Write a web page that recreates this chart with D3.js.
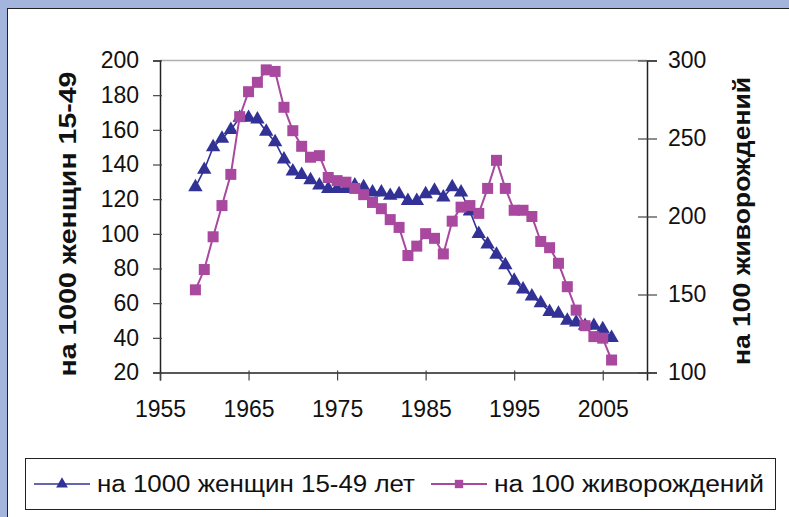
<!DOCTYPE html>
<html>
<head>
    <meta charset="UTF-8">
    <title>Рождаемость</title>
    <script src="https://d3js.org/d3.v7.min.js"></script>
    <style>
        body { margin: 0; }
        text { font-family: "Liberation Sans", Arial, sans-serif; fill: #111; }
    </style>
</head>
<body>
    <div id="chart"></div>
    <script>
        // values
        const years = d3.range(1959, 2007);
        const perWomen = [127, 137, 150, 155, 160, 167, 167, 166, 159, 153,
                          143, 136, 134, 131, 128, 126, 126, 126, 128, 127,
                          124, 124, 122, 123, 119, 119, 123, 125, 121, 127,
                          124, 113, 100, 94, 88, 82, 73, 68, 64, 60,
                          55, 54, 50, 49, 47, 47, 45, 40];
        const perBirths = [153, 166, 187, 207, 227, 264, 280, 286, 294, 293,
                           270, 255, 245, 238, 239, 225, 223, 222, 218, 214,
                           209, 205, 198, 193, 175, 181, 189, 186, 176, 197,
                           206, 207, 202, 218, 236, 218, 204, 204, 200, 184,
                           180, 170, 155, 140, 130, 123, 122, 108];
        const xTicks = [1955, 1965, 1975, 1985, 1995, 2005];
        const leftTicks = [20, 40, 60, 80, 100, 120, 140, 160, 180, 200];
        const rightTicks = [100, 150, 200, 250, 300];
        const seriesNames = ['на 1000 женщин 15-49 лет', 'на 100 живорождений'];

        const W = 789, H = 517;
        const plot = { left: 160, right: 647, top: 60.5, bottom: 372.5 };
        const navy = '#323296', plum = '#a8489f';

        const svg = d3.select('#chart').append('svg')
            .attr('width', W).attr('height', H);

        // frame
        svg.append('rect').attr('width', W).attr('height', H).attr('fill', '#a3b5dc');
        svg.append('rect').attr('x', 7.5).attr('y', 8.5).attr('width', W).attr('height', H)
            .attr('fill', '#fff').attr('stroke', '#222');

        const x = d3.scaleLinear().domain([1955, 2010]).range([plot.left, plot.right]);
        const yL = d3.scaleLinear().domain([20, 200]).range([plot.bottom, plot.top]);
        const yR = d3.scaleLinear().domain([100, 300]).range([plot.bottom, plot.top]);

        // plot area top edge
        svg.append('line')
            .attr('x1', plot.left).attr('x2', plot.right)
            .attr('y1', plot.top).attr('y2', plot.top)
            .attr('stroke', '#b0b0b0').attr('stroke-width', 1.5);

        const fs = '23px';

        const gx = svg.append('g').attr('transform', `translate(0,${plot.bottom})`)
            .call(d3.axisBottom(x).tickValues(xTicks).tickFormat(d3.format('d')).tickSize(8).tickPadding(20));
        gx.selectAll('.tick line').attr('y1', -2);

        const gl = svg.append('g').attr('transform', `translate(${plot.left},0)`)
            .call(d3.axisLeft(yL).tickValues(leftTicks).tickSize(7).tickPadding(14));
        gl.selectAll('.tick line').attr('x1', 2);

        const gr = svg.append('g').attr('transform', `translate(${plot.right},0)`)
            .call(d3.axisRight(yR).tickValues(rightTicks).tickSize(10).tickPadding(11));
        gr.selectAll('.tick line').attr('x1', -9);

        [gx, gl, gr].forEach(g => {
            g.select('.domain').attr('stroke', '#222').attr('stroke-width', 1.5);
            g.selectAll('.tick line').attr('stroke', '#444').attr('stroke-width', 1.2);
            g.selectAll('text').attr('font-size', fs).attr('font-family', '"Liberation Sans", Arial, sans-serif').attr('fill', '#111');
        });

        // axis titles (the original font is a bit wider, so stretch to its length)
        svg.append('text')
            .attr('transform', 'translate(68,224) rotate(-90)')
            .attr('text-anchor', 'middle').attr('dominant-baseline', 'central')
            .attr('font-size', fs).attr('font-weight', 'bold')
            .attr('textLength', 305).attr('lengthAdjust', 'spacingAndGlyphs')
            .text('на 1000 женщин 15-49');
        svg.append('text')
            .attr('transform', 'translate(742,221) rotate(-90)')
            .attr('text-anchor', 'middle').attr('dominant-baseline', 'central')
            .attr('font-size', fs).attr('font-weight', 'bold')
            .attr('textLength', 288).attr('lengthAdjust', 'spacingAndGlyphs')
            .text('на 100 живорождений');

        const tri = d3.symbol(d3.symbolTriangle).size(90);
        const sq = d3.symbol(d3.symbolSquare).size(121);

        // series 1 (left axis)
        const lineL = d3.line().x((d, i) => x(years[i])).y(d => yL(d));
        svg.append('path').datum(perWomen).attr('d', lineL)
            .attr('fill', 'none').attr('stroke', navy).attr('stroke-width', 1.6);
        svg.append('g').selectAll('path').data(perWomen).join('path')
            .attr('transform', (d, i) => `translate(${x(years[i])},${yL(d)})`)
            .attr('d', tri).attr('fill', navy);

        // series 2 (right axis)
        const lineR = d3.line().x((d, i) => x(years[i])).y(d => yR(d));
        svg.append('path').datum(perBirths).attr('d', lineR)
            .attr('fill', 'none').attr('stroke', plum).attr('stroke-width', 2);
        svg.append('g').selectAll('path').data(perBirths).join('path')
            .attr('transform', (d, i) => `translate(${x(years[i])},${yR(d)})`)
            .attr('d', sq).attr('fill', plum);

        // legend
        const leg = svg.append('g');
        leg.append('rect').attr('x', 25.5).attr('y', 458.5).attr('width', 750).attr('height', 51)
            .attr('fill', '#fff').attr('stroke', '#222');
        const items = [
            { x: 34, color: navy, sym: d3.symbol(d3.symbolTriangle).size(60), w: 1.6, len: 318 },
            { x: 431, color: plum, sym: d3.symbol(d3.symbolSquare).size(70), w: 2, len: 270 }
        ];
        items.forEach((it, i) => {
            const ly = 484;
            leg.append('line').attr('x1', it.x).attr('x2', it.x + 56)
                .attr('y1', ly).attr('y2', ly).attr('stroke', it.color).attr('stroke-width', it.w);
            leg.append('path').attr('transform', `translate(${it.x + 28},${ly})`)
                .attr('d', it.sym).attr('fill', it.color);
            leg.append('text').attr('x', it.x + 63).attr('y', ly)
                .attr('dominant-baseline', 'central').attr('font-size', fs)
                .attr('textLength', it.len).attr('lengthAdjust', 'spacingAndGlyphs')
                .text(seriesNames[i]);
        });
    </script>
</body>
</html>
